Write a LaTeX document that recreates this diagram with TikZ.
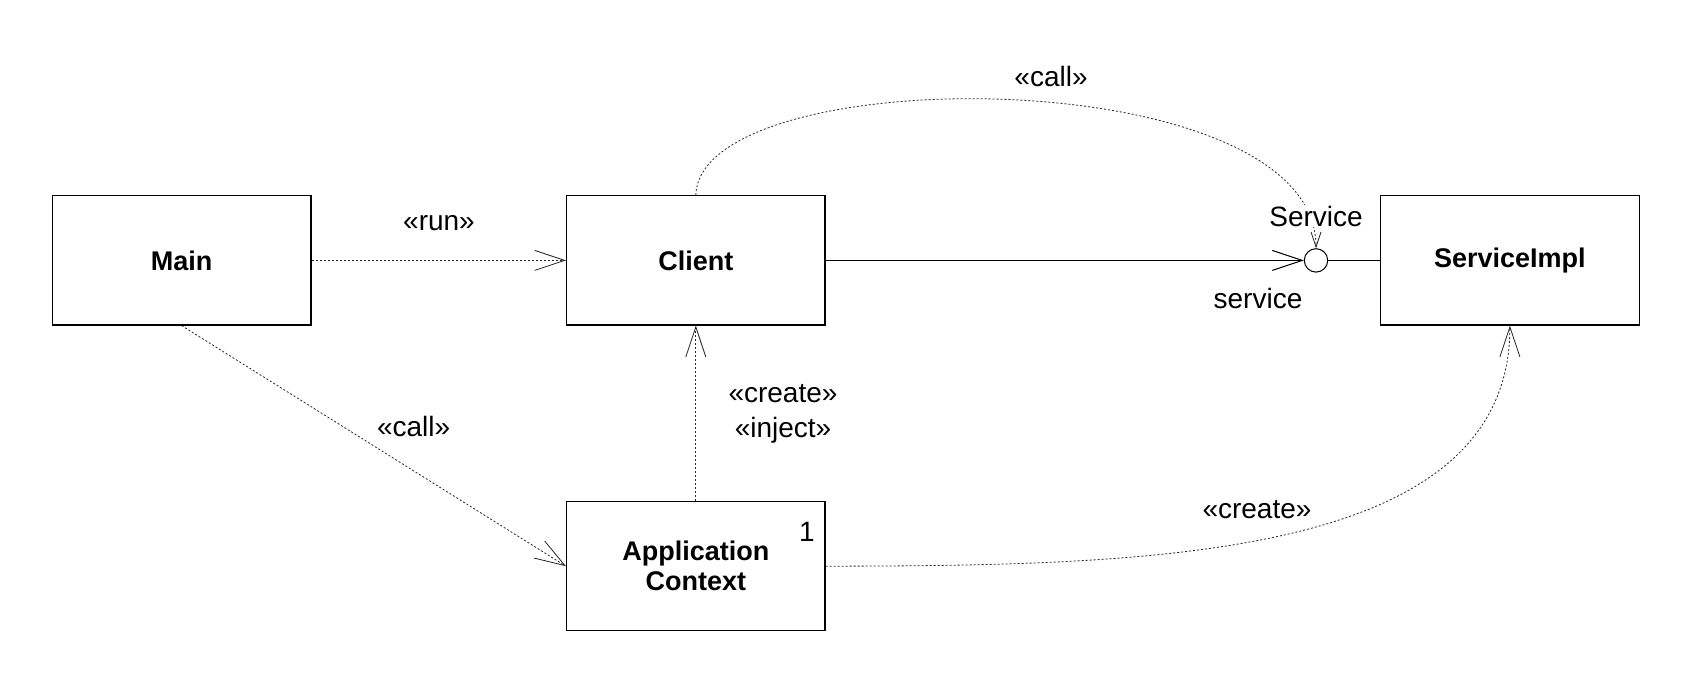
\documentclass[tikz,border=0pt]{standalone}
\usepackage{fontspec}
\setmainfont{Liberation Sans}
\usetikzlibrary{arrows.meta}
\begin{document}
\begin{tikzpicture}[x=1pt,y=-1pt,
  box/.style={draw=black,line width=1.2pt,rectangle,minimum width=258.5pt,minimum height=129.3pt,inner sep=0pt,align=center,font=\fontsize{27}{32}\selectfont\bfseries},
  lbl/.style={inner sep=0pt,font=\fontsize{28}{34}\selectfont},
  dep/.style={draw=black!85,line width=0.8pt,dash pattern=on 2pt off 2pt,-{Straight Barb[length=30pt,width=20pt,line width=0.8pt]}},
  assoc/.style={draw=black,line width=1pt},
  iface/.style={draw=black,line width=1pt,circle,minimum size=23.4pt,inner sep=0pt,fill=white}]
\useasboundingbox (0,0) rectangle (1702,690);
\fill[white] (0,0) rectangle (1702,690);
\node[box] (main) at (181.7,260.4) {Main};
\node[box] (client) at (695.8,260.4) {Client};
\node[box] (impl) at (1509.9,260.4) {ServiceImpl};
\node[box] (ctx) at (695.8,566.2) {Application\\[-2pt]Context};
\node[lbl] (one) at (807,532) {1};
\node[iface] (svc) at (1316,260.4) {};
% connectors
\draw[dep] (main.east) -- (client.west);
\draw[dep] (main.south) -- (ctx.west);
\draw[dep] (ctx.north) -- (client.south);
\draw[assoc,-{Straight Barb[length=30pt,width=20pt,line width=1pt]}] (client.east) -- (svc.west);
\draw[assoc] (svc.east) -- (impl.west);
\draw[dep,-{Straight Barb[length=15pt,width=10pt,line width=0.8pt]}] (client.north) .. controls (700,59) and (1316,59) .. (svc.north);
\draw[dep] (ctx.east) .. controls (1150,565.6) and (1509.9,560) .. (impl.south);
% labels
\node[lbl] (lcalltop) at (1051,76) {«call»};
\node[lbl] (lrun) at (439,223) {«run»};
\node[lbl] (lcall) at (413.6,426.6) {«call»};
\node[lbl,align=center] (lci) at (783,413.5) {«create»\\[1pt]«inject»};
\node[lbl] (lcreate) at (1257,510) {«create»};
\node[lbl,fill=white,inner ysep=1pt] (lsvc) at (1316,216) {Service};
\node[lbl] (lservice) at (1258,298) {service};
\end{tikzpicture}
\end{document}
